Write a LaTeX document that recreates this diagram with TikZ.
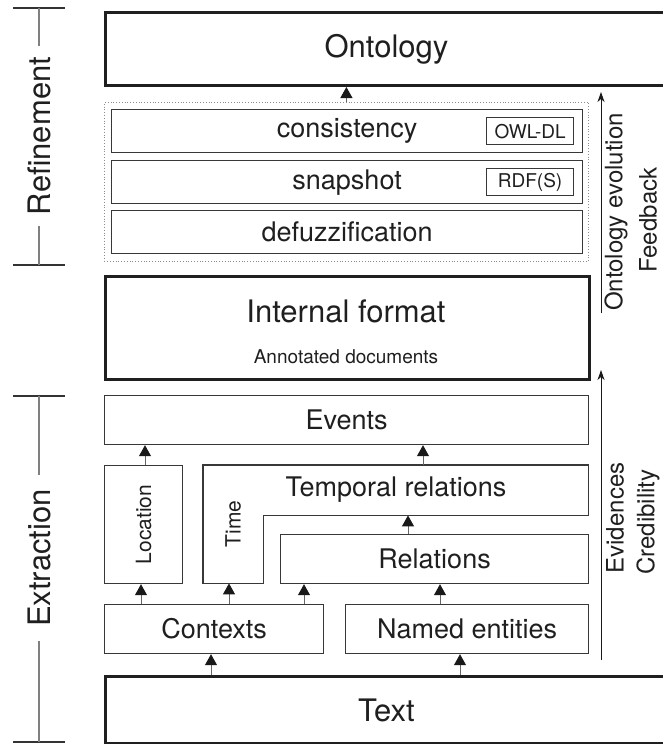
\documentclass[tikz,border=0pt]{standalone}
\usepackage{fontspec}
\setmainfont{TeX Gyre Heros}
\usetikzlibrary{arrows.meta}
\begin{document}
\begin{tikzpicture}[x=1pt,y=-1pt,
  every node/.style={text=black!88},
  thinbox/.style={draw=black!78, line width=1.2pt, anchor=north west, inner sep=0pt, font=\fontsize{27}{30}\selectfont},
  thickbox/.style={draw=black!88, line width=3pt, anchor=north west, inner sep=0pt, font=\fontsize{31}{34}\selectfont},
  tagbox/.style={draw=black!78, line width=1.2pt, anchor=north west, inner sep=0pt, font=\fontsize{19}{22}\selectfont},
  region/.style={anchor=north west, inner sep=0pt},
  boxline/.style={draw=black!78, line width=1.2pt},
  dotbox/.style={draw=black!45, dotted, line width=0.8pt, anchor=north west, inner sep=0pt},
  arr/.style={draw=black!60, line width=1pt, -{Triangle[width=12pt,length=11pt,color=black!90]}},
  fbarr/.style={draw=black!90, line width=1pt, -{Stealth[width=7pt,length=10pt,inset=3pt]}},
  vlabel/.style={rotate=90, inner sep=0pt, font=\fontsize{24}{28}\selectfont},
  phase/.style={rotate=90, inner xsep=11pt, inner ysep=0pt, font=\fontsize{31}{34}\selectfont},
  tick/.style={draw=black!80, line width=1.2pt},
  bracket/.style={draw=black!50, line width=1.2pt}
]
\useasboundingbox (0,0) rectangle (663,744);

% ---------- Refinement part ----------
\node[thickbox, minimum width=562pt, minimum height=73pt] (onto) at (104,11) {Ontology};
\node[dotbox, minimum width=484pt, minimum height=159pt] (dots) at (104,102) {};
\node[thinbox, minimum width=471pt, minimum height=43pt] (cons) at (111,109) {consistency};
\node[thinbox, minimum width=471pt, minimum height=43pt] (snap) at (111,160) {snapshot};
\node[thinbox, minimum width=471pt, minimum height=43pt] (defuzz) at (111,210) {defuzzification};
\node[tagbox, minimum width=87pt, minimum height=27pt] (owl) at (486,117) {OWL-DL};
\node[tagbox, minimum width=87pt, minimum height=27pt] (rdf) at (486,168) {RDF(S)};
\draw[arr] (dots.north) -- (dots.north |- onto.south);

\node[thickbox, minimum width=484pt, minimum height=103pt] (internal) at (104,275) {};
\node[font=\fontsize{31}{34}\selectfont, inner sep=0pt] (intlabel) at (346,311) {Internal format};
\node[font=\fontsize{19}{22}\selectfont, inner sep=0pt] (annot) at (346,357) {Annotated documents};

% ---------- Extraction part ----------
\node[thinbox, minimum width=484pt, minimum height=49pt] (events) at (104,395) {Events};
\node[thinbox, minimum width=78pt, minimum height=118pt] (loc) at (104,465) {};
\node[vlabel, font=\fontsize{21}{24}\selectfont] (loclabel) at (loc.center) {Location};

\node[region, minimum width=385pt, minimum height=50pt] (temporal) at (203,465) {};
\node[region, minimum width=60pt, minimum height=118pt] (timecol) at (203,465) {};
\draw[boxline] (temporal.north west) -- (temporal.north east) -- (temporal.south east)
  -- (temporal.south west -| timecol.east) -- (timecol.south east) -- (timecol.south west) -- cycle;
\node[font=\fontsize{27}{30}\selectfont, inner sep=0pt] (templabel) at (396,490) {Temporal relations};
\node[vlabel, font=\fontsize{21}{24}\selectfont] (timelabel) at (233,524) {Time};

\node[thinbox, minimum width=308pt, minimum height=49pt] (rel) at (280,534) {Relations};
\node[thinbox, minimum width=219pt, minimum height=49pt] (ctx) at (104,604) {Contexts};
\node[thinbox, minimum width=243pt, minimum height=49pt] (named) at (345,604) {Named entities};
\node[thickbox, minimum width=562pt, minimum height=67pt] (text) at (104,675) {Text};

\coordinate (x141) at (141,0);
\coordinate (x229) at (229,0);
\coordinate (x304) at (304,0);
\coordinate (x408) at (408,0);
\coordinate (x423) at (423,0);
\coordinate (x440) at (440,0);
\coordinate (x211) at (211,0);
\coordinate (x460) at (460,0);
\coordinate (x145) at (145,0);

\draw[arr] (loc.north -| x145) -- (events.south -| x145);
\draw[arr] (temporal.north -| x423) -- (events.south -| x423);
\draw[arr] (rel.north -| x408) -- (temporal.south -| x408);
\draw[arr] (ctx.north -| x141) -- (loc.south -| x141);
\draw[arr] (ctx.north -| x229) -- (timecol.south -| x229);
\draw[arr] (ctx.north -| x304) -- (rel.south -| x304);
\draw[arr] (named.north -| x440) -- (rel.south -| x440);
\draw[arr] (text.north -| x211) -- (ctx.south -| x211);
\draw[arr] (text.north -| x460) -- (named.south -| x460);

% ---------- right-hand feedback ----------
\coordinate (fbAs) at (601,313);
\coordinate (fbAe) at (601,92);
\coordinate (fbBs) at (601,660);
\coordinate (fbBe) at (601,370);
\draw[fbarr] (fbAs) -- (fbAe);
\draw[fbarr] (fbBs) -- (fbBe);
\node[vlabel] (ontevo) at (616,212) {Ontology evolution};
\node[vlabel] (feedback) at (648,220) {Feedback};
\node[vlabel] (evid) at (615,518) {Evidences};
\node[vlabel] (cred) at (648,522) {Credibility};

% ---------- left-hand phase brackets ----------
\coordinate (rtopL) at (13,8);  \coordinate (rtopR) at (65,8);
\coordinate (rbotL) at (13,265); \coordinate (rbotR) at (65,265);
\coordinate (rtop) at (39,8); \coordinate (rbot) at (39,265);
\draw[tick] (rtopL) -- (rtopR);
\draw[tick] (rbotL) -- (rbotR);
\node[phase] (refine) at (39,136) {Refinement};
\draw[bracket] (rtop) -- (refine.east);
\draw[bracket] (refine.west) -- (rbot);

\coordinate (etopL) at (13,396);  \coordinate (etopR) at (65,396);
\coordinate (ebotL) at (13,742); \coordinate (ebotR) at (65,742);
\coordinate (etop) at (39,396); \coordinate (ebot) at (39,742);
\draw[tick] (etopL) -- (etopR);
\draw[tick] (ebotL) -- (ebotR);
\node[phase, inner xsep=14pt] (extract) at (39,558) {Extraction};
\draw[bracket] (etop) -- (extract.east);
\draw[bracket] (extract.west) -- (ebot);
\end{tikzpicture}
\end{document}
